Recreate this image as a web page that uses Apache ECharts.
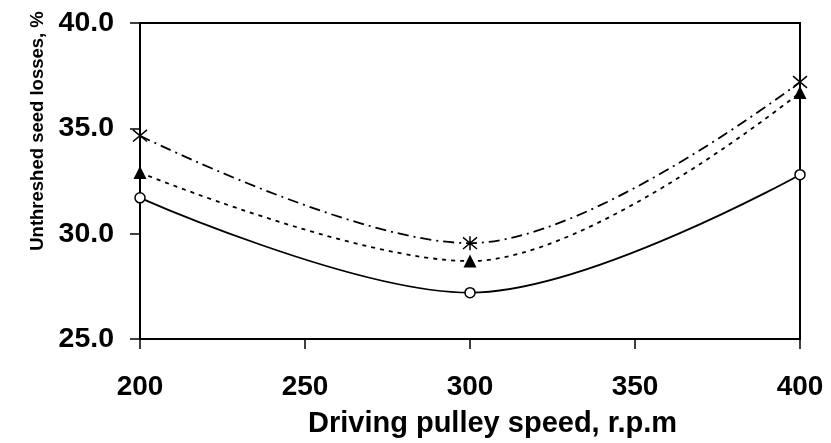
<!DOCTYPE html>
<html>
<head>
<meta charset="utf-8">
<script src="https://cdn.jsdelivr.net/npm/echarts@6/dist/echarts.min.js"></script>
<style>
html,body{margin:0;padding:0;background:#fff;}
#chart{width:831px;height:443px;}
</style>
</head>
<body>
<div id="chart"></div>
<script>
var speeds = [200, 300, 400];
var seriesCircle = [31.7, 27.2, 32.8];
var seriesTriangle = [32.9, 28.7, 36.7];
var seriesAsterisk = [34.65, 29.55, 37.2];
var xTicks = [200, 250, 300, 350, 400];
var yTicks = [25, 30, 35, 40];

function pairs(xs, ys){ return xs.map(function(x,i){ return [x, ys[i]]; }); }

var asteriskPath = 'path://M0,0 L10,10 M10,0 L0,10 M5,-1 L5,11';
var font = 'Liberation Sans, Arial, sans-serif';

var chart = echarts.init(document.getElementById('chart'));
chart.setOption({
  animation: false,
  backgroundColor: '#fff',
  grid: {left: 140, right: 31, top: 23, bottom: 103, show: true, borderColor: '#000', borderWidth: 2, backgroundColor: 'transparent'},
  xAxis: {
    type: 'value', min: xTicks[0], max: xTicks[xTicks.length-1], interval: 50,
    name: 'Driving pulley speed, r.p.m', nameLocation: 'middle', nameGap: 70,
    nameTextStyle: {fontFamily: font, fontWeight: 'bold', fontSize: 29, color: '#000', padding: [0,0,0,45]},
    axisLine: {lineStyle: {color: '#000', width: 2}},
    axisTick: {show: true, inside: false, length: 10, lineStyle: {color: '#000', width: 1.5}},
    axisLabel: {fontFamily: font, fontWeight: 'bold', fontSize: 28, color: '#000', margin: 34},
    splitLine: {show: false}
  },
  yAxis: {
    type: 'value', min: yTicks[0], max: yTicks[yTicks.length-1], interval: 5,
    name: 'Unthreshed seed losses, %', nameLocation: 'middle', nameGap: 89, nameRotate: 90,
    nameTextStyle: {fontFamily: font, fontWeight: 'bold', fontSize: 18.5, color: '#000', padding: [0,0,0,100]},
    axisLine: {show: true, lineStyle: {color: '#000', width: 2}},
    axisTick: {show: true, inside: false, length: 10, lineStyle: {color: '#000', width: 1.5}},
    axisLabel: {fontFamily: font, fontWeight: 'bold', fontSize: 28.5, color: '#000', margin: 26,
      formatter: function(v){ return v.toFixed(1); }},
    splitLine: {show: false}
  },
  series: [
    {type: 'line', data: pairs(speeds, seriesCircle), smooth: 0.35,
      symbol: 'circle', symbolSize: 10,
      itemStyle: {color: '#fff', borderColor: '#000', borderWidth: 1.5},
      lineStyle: {color: '#000', width: 1.8, type: 'solid'}},
    {type: 'line', data: pairs(speeds, seriesTriangle), smooth: 0.35,
      symbol: 'triangle', symbolSize: 13,
      itemStyle: {color: '#000', borderColor: '#000', borderWidth: 0},
      lineStyle: {color: '#000', width: 1.8, type: [4, 5]}},
    {type: 'line', data: pairs(speeds, seriesAsterisk), smooth: 0.35,
      symbol: asteriskPath, symbolSize: 14,
      itemStyle: {color: '#000', borderColor: '#000', borderWidth: 1.5},
      lineStyle: {color: '#000', width: 1.8, type: [11, 5, 2, 5]}}
  ]
});
</script>
</body>
</html>
